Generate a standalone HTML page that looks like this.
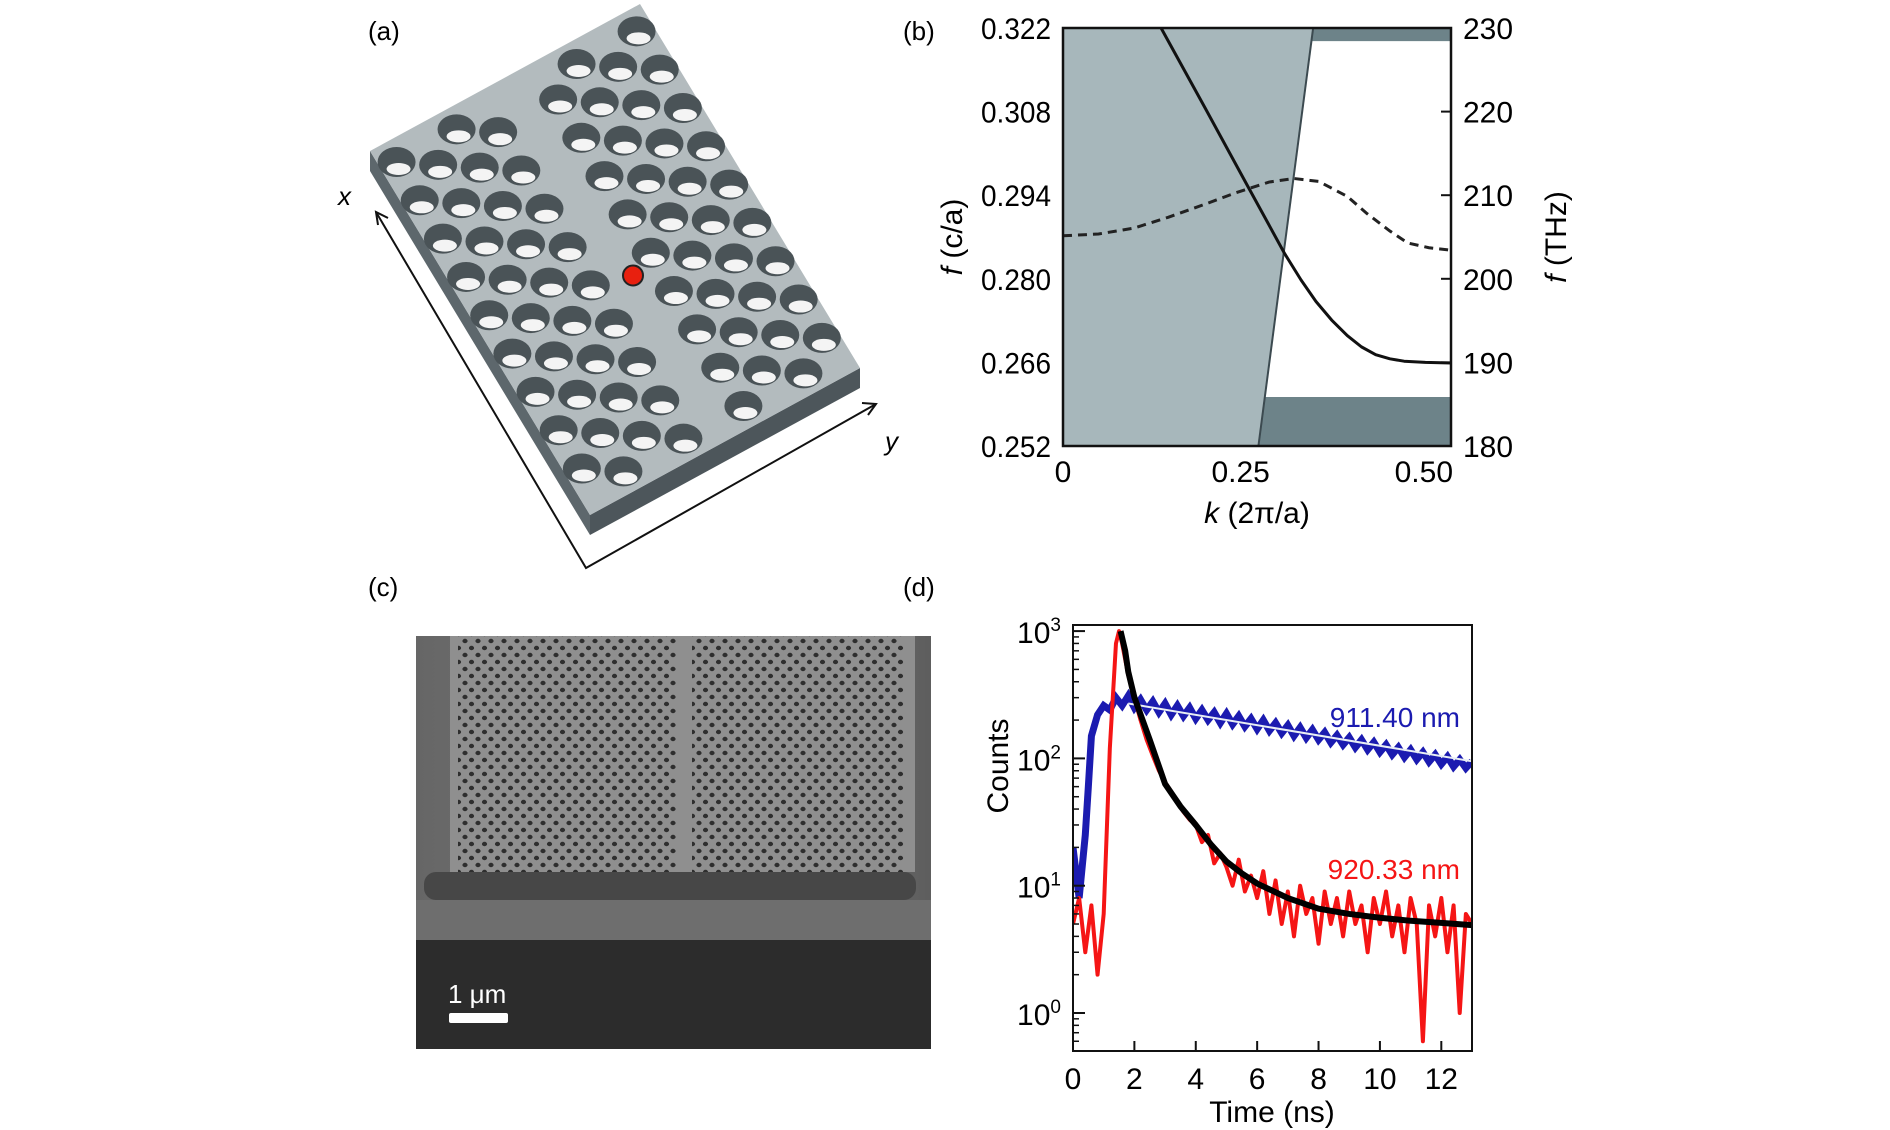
<!DOCTYPE html>
<html><head><meta charset="utf-8"><style>
html,body{margin:0;padding:0;background:#fff;}
svg{display:block;font-family:"Liberation Sans",sans-serif;}
</style></head><body>
<svg id="fig" width="1890" height="1130" viewBox="0 0 1890 1130">
<defs>
<pattern id="holes" width="13" height="14" patternUnits="userSpaceOnUse">
<ellipse cx="3.5" cy="4" rx="2.6" ry="2.2" fill="#2e2e2e"/>
<ellipse cx="10" cy="11" rx="2.6" ry="2.2" fill="#2e2e2e"/>
</pattern>
<linearGradient id="semg" x1="0" y1="0" x2="1" y2="0">
<stop offset="0" stop-color="#666"/><stop offset="0.5" stop-color="#7a7a7a"/><stop offset="1" stop-color="#5e5e5e"/>
</linearGradient>
</defs>
<text x="368" y="40" font-size="26">(a)</text>
<text x="903" y="40" font-size="26">(b)</text>
<text x="368" y="596" font-size="26">(c)</text>
<text x="903" y="596" font-size="26">(d)</text>
<g id="pa"></g>
<g id="pc"></g>
<g id="pb"></g>
<g id="pd"></g>
</svg>
<script>
// ---------- Panel b data ----------
const bXTicks = [0, 0.25, 0.50];
const bXTickLabels = ["0", "0.25", "0.50"];
const bYTicks = [0.252, 0.266, 0.280, 0.294, 0.308, 0.322];
const bYTickLabels = ["0.252", "0.266", "0.280", "0.294", "0.308", "0.322"];
const bY2Labels = ["180", "190", "200", "210", "220", "230"];
const lightConeK = [0.275, 0.352];
const lightConeF = [0.252, 0.322];
const bandLowTop = 0.2602;
const bandHighBottom = 0.3198;
const solidK = [0.138, 0.2, 0.26, 0.312, 0.335, 0.356, 0.378, 0.40, 0.42, 0.44, 0.46, 0.48, 0.51, 0.546];
const solidF = [0.322, 0.3086, 0.2955, 0.2842, 0.2798, 0.2762, 0.2731, 0.2705, 0.2686, 0.2673, 0.2666, 0.2662, 0.2660, 0.2659];
const dashK = [0, 0.05, 0.1, 0.148, 0.2, 0.243, 0.29, 0.325, 0.36, 0.4, 0.428, 0.46, 0.485, 0.515, 0.546];
const dashF = [0.2872, 0.2875, 0.2885, 0.2903, 0.2925, 0.2944, 0.2962, 0.2968, 0.2963, 0.2938, 0.2909, 0.2880, 0.2860, 0.2852, 0.2848];

// ---------- Panel d data ----------
const dXTicks = [0, 2, 4, 6, 8, 10, 12];
const dYDecades = [0, 1, 2, 3];
const blueT = [0,0.2,0.4,0.5,0.6,0.8,1.0,1.2,1.4,1.6,1.8,2.0,2.2,2.4,2.6,2.8,3.0,3.2,3.4,3.6,3.8,4.0,4.2,4.4,4.6,4.8,5.0,5.2,5.4,5.6,5.8,6.0,6.2,6.4,6.6,6.8,7.0,7.2,7.4,7.6,7.8,8.0,8.2,8.4,8.6,8.8,9.0,9.2,9.4,9.6,9.8,10.0,10.2,10.4,10.6,10.8,11.0,11.2,11.4,11.6,11.8,12.0,12.2,12.4,12.6,12.8,13.0];
const blueC = [20,8,25,60,150,220,260,240,300,260,310,250,290,240,280,230,270,220,260,215,250,205,240,200,230,190,225,185,215,178,205,170,200,165,190,158,182,150,175,145,168,140,160,133,152,128,146,122,140,117,134,112,128,107,122,102,117,98,112,94,107,90,103,86,98,84,95];
const blueFitT = [1.8, 13];
const blueFitC = [270, 95];
const redT = [0,0.2,0.4,0.6,0.8,1.0,1.2,1.4,1.5,1.6,1.8,2.0,2.2,2.4,2.6,2.8,3.0,3.2,3.4,3.6,3.8,4.0,4.2,4.4,4.6,4.8,5.0,5.2,5.4,5.6,5.8,6.0,6.2,6.4,6.6,6.8,7.0,7.2,7.4,7.6,7.8,8.0,8.2,8.4,8.6,8.8,9.0,9.2,9.4,9.6,9.8,10.0,10.2,10.4,10.6,10.8,11.0,11.2,11.4,11.6,11.8,12.0,12.2,12.4,12.6,12.8,13.0];
const redC = [5,8,3,7,2,6,120,800,1000,800,450,300,200,140,105,80,65,55,45,38,33,30,22,25,15,18,14,10,16,9,12,8,13,6,11,5,9,4,10,6,8,3.5,9,5,8,4,9,5,7,3,8,5,9,4,7,3,8,5,0.6,7,4,8,3,7,1,6,5];
const fitT = [1.55,1.7,1.8,2.0,2.5,3.0,3.5,4.0,4.5,5.0,5.5,6.0,7.0,8.0,9.0,10.0,11.0,12.0,13.0];
const fitC = [1000,700,480,302,140,63,42,30,21,15.5,12.5,10.4,8,6.6,6,5.6,5.3,5.1,4.9];
const blueLabel = "911.40 nm";
const redLabel = "920.33 nm";

const NS = "http://www.w3.org/2000/svg";
function mk(tag, attrs, parent) {
  const e = document.createElementNS(NS, tag);
  for (const k in attrs) e.setAttribute(k, attrs[k]);
  parent.appendChild(e);
  return e;
}

// ---------- Panel a ----------
(function(){
  const g = document.getElementById('pa');
  const A=[370,151], B=[640,4], D=[590,515], C=[B[0]+D[0]-A[0], B[1]+D[1]-A[1]];
  const th = 20;
  const side1 = mk('polygon',{points:`${A[0]},${A[1]} ${D[0]},${D[1]} ${D[0]},${D[1]+th} ${A[0]},${A[1]+th}`, fill:'#5d676c'}, g);
  
  
  const side2 = mk('polygon',{points:`${D[0]},${D[1]} ${C[0]},${C[1]} ${C[0]},${C[1]+th} ${D[0]},${D[1]+th}`, fill:'#4d565b'}, g);
  
  
  const top = mk('polygon',{points:`${A[0]},${A[1]} ${B[0]},${B[1]} ${C[0]},${C[1]} ${D[0]},${D[1]}`, fill:'#b3bbbe'}, g);
  
  
  const nu=9, nv=9;
  for (let i=0;i<nu;i++){
    if (i===4) continue;
    for (let j=0;j<nv;j++){
      const u=(i+0.5)/nu, v=(j+0.5+(i%2)*0.5)/(nv+0.5);
      const x=A[0]+u*(B[0]-A[0])+v*(D[0]-A[0]);
      const y=A[1]+u*(B[1]-A[1])+v*(D[1]-A[1]);
      const h = mk('ellipse',{cx:x,cy:y,rx:19,ry:15,fill:'#4a5357'}, g);
      
      
      mk('ellipse',{cx:x+2,cy:y+7,rx:12,ry:6,fill:'#f4f4f4'}, g);
    }
  }
  const cx=A[0]+0.5*(B[0]-A[0])+0.5*(D[0]-A[0])+18, cy=A[1]+0.5*(B[1]-A[1])+0.5*(D[1]-A[1])+16;
  const dot = mk('circle',{cx:cx,cy:cy,r:10,fill:'#e8200f',stroke:'#222','stroke-width':2}, g);
  
  
  const ax = mk('polyline',{points:`376,212 586,568 876,404`, fill:'none', stroke:'#111','stroke-width':2}, g);
  
  
  mk('polyline',{points:`378,225 376,212 388,218`, fill:'none', stroke:'#111','stroke-width':2}, g);
  mk('polyline',{points:`862,403 876,404 868,415`, fill:'none', stroke:'#111','stroke-width':2}, g);
  const tx = mk('text',{x:338,y:205,'font-size':26,'font-style':'italic'}, g); tx.textContent='x';
  
  
  const ty = mk('text',{x:885,y:450,'font-size':26,'font-style':'italic'}, g); ty.textContent='y';
  
  
})();

// ---------- Panel c ----------
(function(){
  const g = document.getElementById('pc');
  const bg = mk('rect',{x:416,y:636,width:515,height:413,fill:'url(#semg)'}, g);
  
  
  mk('rect',{x:450,y:636,width:465,height:236,fill:'#8f8f8f'}, g);
  const m1 = mk('rect',{x:458,y:636,width:218,height:236,fill:'url(#holes)'}, g);
  
  
  const m2 = mk('rect',{x:692,y:636,width:212,height:236,fill:'url(#holes)'}, g);
  
  
  mk('rect',{x:424,y:872,width:492,height:28,rx:12,fill:'#474747'}, g);
  mk('rect',{x:416,y:900,width:515,height:40,fill:'#6e6e6e'}, g);
  mk('rect',{x:416,y:940,width:515,height:109,fill:'#2c2c2c'}, g);
  const st = mk('text',{x:448,y:1003,'font-size':26,fill:'#fff'}, g); st.textContent='1 μm';
  
  
  const sb = mk('rect',{x:449,y:1013,width:59,height:10,rx:2,fill:'#fff'}, g);
  
  
})();

// ---------- Panel b ----------
(function(){
  const g = document.getElementById('pb');
  const L=1063,R=1451,T=28,Bt=446;
  const kMax=0.546, fMin=0.252, fMax=0.322;
  const xs=k=>L+(k/kMax)*(R-L);
  const ys=f=>Bt-(f-fMin)/(fMax-fMin)*(Bt-T);
  const lc = mk('polygon',{points:`${xs(0)},${ys(fMin)} ${xs(lightConeK[0])},${ys(lightConeF[0])} ${xs(lightConeK[1])},${ys(lightConeF[1])} ${xs(0)},${ys(fMax)}`, fill:'#a7b7bb'}, g);
  
  
  const kAt=f=>lightConeK[0]+(f-lightConeF[0])/(lightConeF[1]-lightConeF[0])*(lightConeK[1]-lightConeK[0]);
  const bl = mk('polygon',{points:`${xs(lightConeK[0])},${ys(fMin)} ${xs(kMax)},${ys(fMin)} ${xs(kMax)},${ys(bandLowTop)} ${xs(kAt(bandLowTop))},${ys(bandLowTop)}`, fill:'#6d8389'}, g);
  
  
  const bh = mk('polygon',{points:`${xs(kAt(bandHighBottom))},${ys(bandHighBottom)} ${xs(kMax)},${ys(bandHighBottom)} ${xs(kMax)},${ys(fMax)} ${xs(lightConeK[1])},${ys(fMax)}`, fill:'#6d8389'}, g);
  
  
  const ll = mk('line',{x1:xs(lightConeK[0]),y1:ys(lightConeF[0]),x2:xs(lightConeK[1]),y2:ys(lightConeF[1]),stroke:'#3c4a50','stroke-width':2}, g);
  
  
  const sp = mk('polyline',{points:solidK.map((k,i)=>xs(k)+','+ys(solidF[i])).join(' '), fill:'none', stroke:'#111','stroke-width':3,'stroke-linejoin':'round'}, g);
  
  
  const dp = mk('polyline',{points:dashK.map((k,i)=>xs(k)+','+ys(dashF[i])).join(' '), fill:'none', stroke:'#222','stroke-width':3,'stroke-dasharray':'9,6'}, g);
  
  
  const fr = mk('rect',{x:L,y:T,width:R-L,height:Bt-T,fill:'none',stroke:'#111','stroke-width':2.5}, g);
  
  
  bYTicks.forEach((f,i)=>{
    mk('line',{x1:R,y1:ys(f),x2:R-10,y2:ys(f),stroke:'#111','stroke-width':2}, g);
    const t = mk('text',{x:L-12,y:ys(f)+11,'font-size':30,'text-anchor':'end',textLength:70,lengthAdjust:'spacingAndGlyphs'}, g);
    t.textContent = bYTickLabels[i];
    
    
    const t2 = mk('text',{x:R+12,y:ys(f)+11,'font-size':30}, g);
    t2.textContent = bY2Labels[i];
    
    
  });
  bXTicks.forEach((k,i)=>{
    const t = mk('text',{x:i===2?R+2:xs(k),y:Bt+36,'font-size':30,'text-anchor':i===2?'end':'middle'}, g);
    t.textContent = bXTickLabels[i];
    
    
  });
  const xt = mk('text',{x:1257,y:523,'font-size':30,'text-anchor':'middle'}, g);
  xt.innerHTML = '<tspan font-style="italic">k</tspan> (2π/a)';
  
  
  const yt = mk('text',{x:0,y:0,'font-size':30,'text-anchor':'middle',transform:'translate(962,237) rotate(-90)'}, g);
  yt.innerHTML = '<tspan font-style="italic">f</tspan> (c/a)';
  
  
  const y2 = mk('text',{x:0,y:0,'font-size':30,'text-anchor':'middle',transform:'translate(1566,237) rotate(-90)'}, g);
  y2.innerHTML = '<tspan font-style="italic">f</tspan> (THz)';
  
  
})();

// ---------- Panel d ----------
(function(){
  const g = document.getElementById('pd');
  const L=1073,R=1472,T=625,Bt=1051;
  const tMax=13, y0=1013, dec=127.3;
  const xs=t=>L+t/tMax*(R-L);
  const ys=c=>y0-Math.log10(c)*dec;
  const clip = mk('clipPath',{id:'dclip'}, g);
  mk('rect',{x:L,y:T,width:R-L,height:Bt-T}, clip);
  const dg = mk('g',{'clip-path':'url(#dclip)'}, g);
  const bp = mk('polyline',{points:blueT.map((t,i)=>xs(t)+','+ys(blueC[i])).join(' '), fill:'none', stroke:'#1b1bb0','stroke-width':7,'stroke-linejoin':'miter'}, dg);
  
  
  const bf = mk('polyline',{points:blueFitT.map((t,i)=>xs(t)+','+ys(blueFitC[i])).join(' '), fill:'none', stroke:'#e8eef4','stroke-width':2}, dg);
  
  
  const rp = mk('polyline',{points:redT.map((t,i)=>xs(t)+','+ys(redC[i])).join(' '), fill:'none', stroke:'#f51515','stroke-width':4,'stroke-linejoin':'round'}, dg);
  
  
  const fp = mk('polyline',{points:fitT.map((t,i)=>xs(t)+','+ys(fitC[i])).join(' '), fill:'none', stroke:'#000','stroke-width':6,'stroke-linejoin':'round'}, dg);
  
  
  const fr = mk('rect',{x:L,y:T,width:R-L,height:Bt-T,fill:'none',stroke:'#111','stroke-width':2}, g);
  
  
  dXTicks.forEach(t=>{
    mk('line',{x1:xs(t),y1:Bt,x2:xs(t),y2:Bt-10,stroke:'#111','stroke-width':2}, g);
    const tl = mk('text',{x:xs(t),y:Bt+38,'font-size':30,'text-anchor':'middle'}, g);
    tl.textContent = String(t);
    
    
  });
  dYDecades.forEach(d=>{
    mk('line',{x1:L,y1:ys(Math.pow(10,d)),x2:L+12,y2:ys(Math.pow(10,d)),stroke:'#111','stroke-width':2}, g);
    const tl = mk('text',{x:L-12,y:ys(Math.pow(10,d))+12,'font-size':30,'text-anchor':'end'}, g);
    tl.innerHTML = '10<tspan dy="-12" font-size="19">'+d+'</tspan>';
    
    
  });
  for (let d=-1; d<=3; d++){
    for (let m=2; m<=9; m++){
      const c=m*Math.pow(10,d), y=ys(c);
      if (y<T || y>Bt) continue;
      mk('line',{x1:L,y1:y,x2:L+6,y2:y,stroke:'#111','stroke-width':1.5}, g);
    }
  }
  const xt = mk('text',{x:1272,y:1122,'font-size':30,'text-anchor':'middle'}, g);
  xt.textContent = 'Time (ns)';
  
  
  const yt = mk('text',{x:0,y:0,'font-size':30,'text-anchor':'middle',transform:'translate(1008,766) rotate(-90)'}, g);
  yt.textContent = 'Counts';
  
  
  const l1 = mk('text',{x:1460,y:727,'font-size':28,'text-anchor':'end',fill:'#1b1bb0'}, g);
  l1.textContent = blueLabel;
  
  
  const l2 = mk('text',{x:1460,y:879,'font-size':28,'text-anchor':'end',fill:'#f51515'}, g);
  l2.textContent = redLabel;
  
  
})();
</script>
</body></html>
